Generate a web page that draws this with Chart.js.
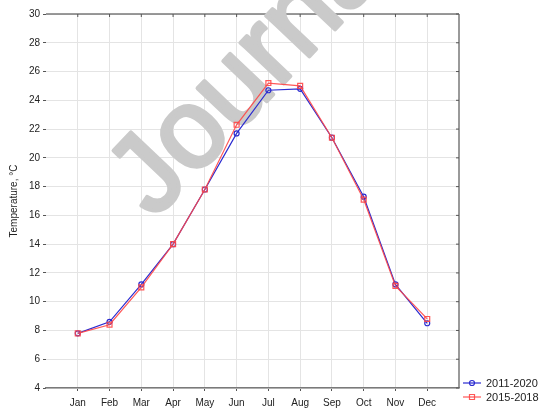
<!DOCTYPE html>
<html>
<head>
<meta charset="utf-8">
<script src="https://cdn.jsdelivr.net/npm/chart.js@4"></script>
<style>
  html, body { margin: 0; padding: 0; background: #fff; }
  #wrap { position: relative; width: 542px; height: 409px; }
</style>
</head>
<body>
<div id="wrap"><canvas id="chart" width="542" height="409"></canvas></div>
<script>
// Month labels
const months = ['Jan', 'Feb', 'Mar', 'Apr', 'May', 'Jun', 'Jul', 'Aug', 'Sep', 'Oct', 'Nov', 'Dec'];

// Mean monthly temperature, °C
const temp2011_2020 = [7.8, 8.6, 11.2, 14.0, 17.8, 21.7, 24.7, 24.8, 21.4, 17.3, 11.2, 8.5];
const temp2015_2018 = [7.8, 8.4, 11.0, 14.0, 17.8, 22.3, 25.2, 25.0, 21.4, 17.1, 11.1, 8.8];

// Y axis range
const yMin = 4, yMax = 30, yStep = 2;

const blue = '#2b2bd0';
const red = 'rgba(255, 70, 70, 0.9)';
const font = "'Liberation Sans', Arial, sans-serif";

function toPoints(vals) {
  return vals.map((v, i) => ({ x: i + 1, y: v }));
}

// Frame, watermark and legend
const extras = {
  id: 'extras',
  beforeDatasetsDraw(chart) {
    const ctx = chart.ctx;
    const a = chart.chartArea;
    const xs = chart.scales.x, ys = chart.scales.y;
    ctx.save();
    // top and right frame lines
    ctx.strokeStyle = '#7a7a7a';
    ctx.lineWidth = 1.5;
    ctx.beginPath();
    ctx.moveTo(a.left, a.top);
    ctx.lineTo(a.right, a.top);
    ctx.moveTo(a.right, a.top);
    ctx.lineTo(a.right, a.bottom);
    ctx.stroke();
    // inner tick marks
    ctx.lineWidth = 1;
    ctx.strokeStyle = '#555';
    ctx.beginPath();
    months.forEach((m, i) => {
      const px = xs.getPixelForValue(i + 1);
      ctx.moveTo(px, a.top);
      ctx.lineTo(px, a.top + 3);
    });
    for (let v = yMin; v <= yMax; v += yStep) {
      const py = ys.getPixelForValue(v);
      ctx.moveTo(a.right, py);
      ctx.lineTo(a.right - 3, py);
    }
    ctx.stroke();
    // watermark
    ctx.translate(154, 220);
    ctx.rotate(-46.5 * Math.PI / 180);
    ctx.fillStyle = 'rgb(202,202,202)';
    ctx.strokeStyle = 'rgb(202,202,202)';
    ctx.lineWidth = 4;
    ctx.lineJoin = 'round';
    ctx.font = '112px ' + font;
    ctx.textBaseline = 'alphabetic';
    ctx.fillText('Journal Pre-proof', 0, 0);
    ctx.strokeText('Journal Pre-proof', 0, 0);
    ctx.restore();
  },
  afterDraw(chart) {
    const ctx = chart.ctx;
    ctx.save();
    const items = [
      { label: '2011-2020', color: blue, y: 383, style: 'circle' },
      { label: '2015-2018', color: red, y: 397, style: 'rect' }
    ];
    ctx.font = '11px ' + font;
    ctx.textBaseline = 'middle';
    items.forEach(it => {
      ctx.strokeStyle = it.color;
      ctx.lineWidth = 1.2;
      ctx.beginPath();
      ctx.moveTo(463, it.y);
      ctx.lineTo(481, it.y);
      ctx.stroke();
      ctx.beginPath();
      if (it.style === 'circle') {
        ctx.arc(472, it.y, 2.5, 0, Math.PI * 2);
      } else {
        ctx.rect(469.5, it.y - 2.5, 5, 5);
      }
      ctx.stroke();
      ctx.fillStyle = '#222';
      ctx.fillText(it.label, 486, it.y + 0.5);
    });
    ctx.restore();
  }
};

new Chart(document.getElementById('chart'), {
  type: 'line',
  data: {
    datasets: [
      {
        label: '2015-2018',
        data: toPoints(temp2015_2018),
        borderColor: red,
        backgroundColor: 'rgba(255,255,255,0)',
        borderWidth: 1.2,
        pointStyle: 'rect',
        pointRadius: 3.5,
        pointBorderWidth: 1.2,
        pointBorderColor: red,
        tension: 0,
        order: 0
      },
      {
        label: '2011-2020',
        data: toPoints(temp2011_2020),
        borderColor: blue,
        backgroundColor: 'rgba(255,255,255,0)',
        borderWidth: 1.2,
        pointStyle: 'circle',
        pointRadius: 2.5,
        pointBorderWidth: 1.2,
        pointBorderColor: blue,
        tension: 0,
        order: 1
      }
    ]
  },
  options: {
    responsive: false,
    animation: false,
    layout: { padding: { left: 0, right: 83, top: 14, bottom: 0 } },
    plugins: {
      legend: { display: false },
      tooltip: { enabled: false }
    },
    scales: {
      x: {
        type: 'linear',
        min: 0,
        max: 13,
        afterFit: s => { s.height = 21; },
        afterBuildTicks: s => {
          s.ticks = [];
          for (let i = 0; i <= 13; i++) s.ticks.push({ value: i });
        },
        ticks: {
          autoSkip: false,
          maxRotation: 0,
          padding: 6,
          color: '#222',
          font: { family: font, size: 10 },
          callback: v => months[v - 1] || ''
        },
        grid: {
          color: ctx => (ctx.tick && ctx.tick.value >= 1 && ctx.tick.value <= 12) ? '#e4e4e4' : 'rgba(0,0,0,0)',
          tickColor: ctx => (ctx.tick && ctx.tick.value >= 1 && ctx.tick.value <= 12) ? '#555' : 'rgba(0,0,0,0)',
          tickLength: 3
        },
        border: { display: true, color: '#7a7a7a', width: 1.5 }
      },
      y: {
        min: yMin,
        max: yMax,
        afterFit: s => { s.width = 46; },
        ticks: {
          stepSize: yStep,
          padding: 3,
          color: '#222',
          font: { family: font, size: 10 }
        },
        grid: {
          color: '#e4e4e4',
          tickColor: '#555',
          tickLength: 3
        },
        border: { display: false },
        title: {
          display: true,
          text: 'Temperature, °C',
          color: '#222',
          font: { family: font, size: 10 },
          padding: { top: 8, bottom: 0 }
        }
      }
    }
  },
  plugins: [extras]
});
</script>
</body>
</html>
